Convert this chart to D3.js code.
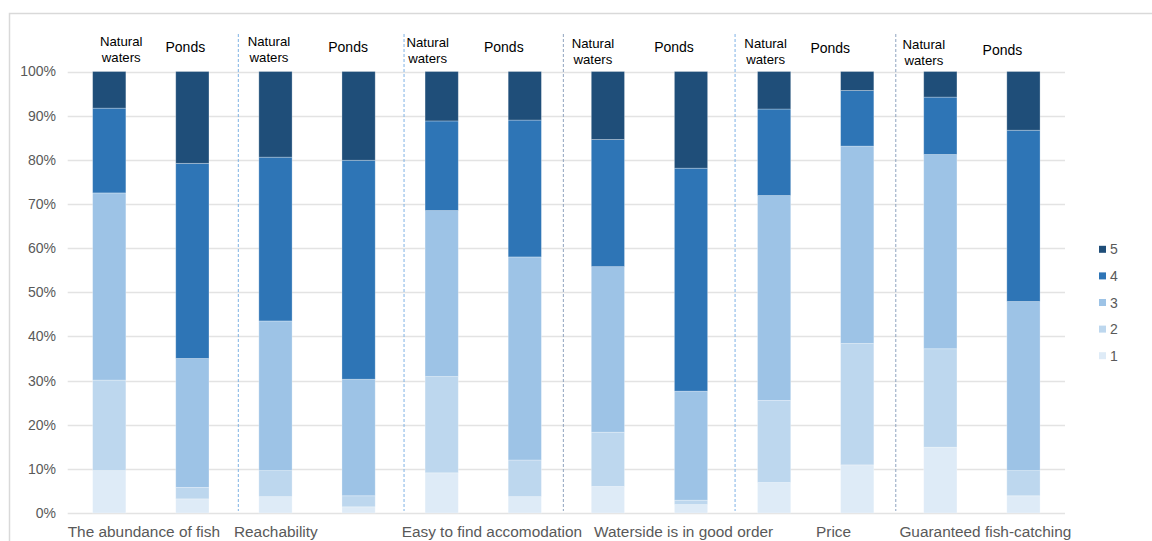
<!DOCTYPE html>
<html>
<head>
<meta charset="utf-8">
<script src="https://cdn.jsdelivr.net/npm/d3@7"></script>
<style>
  html, body { margin: 0; padding: 0; background: #fff; }
  svg { display: block; font-family: "Liberation Sans", Arial, sans-serif; }
</style>
</head>
<body>
<svg id="chart" width="1152" height="541"></svg>
<script>
// Survey answers (share of respondents, %) per score 1..5, one bar per setting
const bars = [
  "fish-natural", "fish-ponds",
  "reach-natural", "reach-ponds",
  "accom-natural", "accom-ponds",
  "water-natural", "water-ponds",
  "price-natural", "price-ponds",
  "catch-natural", "catch-ponds"
];
const score1 = [9.6, 3.2, 3.7, 1.4, 9.1, 3.7, 6.0, 1.9, 6.9, 10.9, 14.9, 3.9];
const score2 = [20.5, 2.6, 5.9, 2.5, 21.8, 8.3, 12.3, 1.0, 18.6, 27.5, 22.3, 5.7];
const score3 = [42.4, 29.2, 33.9, 26.4, 37.6, 46.0, 37.5, 24.7, 46.4, 44.7, 44.0, 38.3];
const score4 = [19.2, 44.2, 37.1, 49.6, 20.3, 31.0, 28.8, 50.5, 19.6, 12.6, 13.0, 38.8];
const score5 = [8.3, 20.8, 19.4, 20.1, 11.2, 11.0, 15.4, 21.9, 8.5, 4.3, 5.8, 13.3];

const scoreKeys = ["1", "2", "3", "4", "5"];
const categories = [
  "The abundance of fish", "Reachability", "Easy to find accomodation",
  "Waterside is in good order", "Price", "Guaranteed fish-catching"
];
const groupLabels = ["Natural waters", "Ponds"];
const yTicks = [0, 10, 20, 30, 40, 50, 60, 70, 80, 90, 100];

const colors = {
  "1": "#DEEBF7", "2": "#BDD7EE", "3": "#9DC3E6", "4": "#2E75B6", "5": "#1F4E79"
};

const rows = bars.map((b, i) => ({
  bar: b,
  "1": score1[i], "2": score2[i], "3": score3[i], "4": score4[i], "5": score5[i]
}));

const svg = d3.select("#chart");
const plotLeft = 67.7, plotRight = 1065, plotTop = 71.5, plotBottom = 513;

const x = d3.scaleBand().domain(bars).range([plotLeft, plotRight]).paddingInner(0.6).paddingOuter(0.3);
const y = d3.scaleLinear().domain([0, 100]).range([plotBottom, plotTop]);

// outer chart frame
svg.append("rect")
  .attr("x", 9.5).attr("y", 13.5).attr("width", 1200).attr("height", 600)
  .attr("fill", "none").attr("stroke", "#D9D9D9").attr("stroke-width", 1.5);

// gridlines
svg.append("g").selectAll("line").data(yTicks).join("line")
  .attr("x1", plotLeft).attr("x2", plotRight)
  .attr("y1", d => Math.round(y(d)) + 0.5).attr("y2", d => Math.round(y(d)) + 0.5)
  .attr("stroke", "#E3E3E3").attr("stroke-width", 1.3);

// y axis labels
const yAxis = d3.axisLeft(y).tickValues(yTicks).tickFormat(d => d + "%").tickSize(0).tickPadding(0);
const gy = svg.append("g").attr("transform", `translate(56,0)`).call(yAxis);
gy.select(".domain").remove();
gy.selectAll("text")
  .attr("fill", "#595959").attr("font-size", "14px")
  .attr("font-family", "'Liberation Sans', Arial, sans-serif");

// stacked bars
const stack = d3.stack().keys(scoreKeys);
const series = stack(rows);
svg.append("g").selectAll("g").data(series).join("g")
  .attr("fill", d => colors[d.key])
  .selectAll("rect").data(d => d).join("rect")
  .attr("x", d => x(d.data.bar))
  .attr("width", x.bandwidth())
  .attr("y", d => y(d[1]))
  .attr("height", d => y(d[0]) - y(d[1]))
  .attr("stroke", "rgba(255,255,255,0.35)")
  .attr("stroke-width", 0.8);

// dashed separators between topics
const step = x.step();
const sepOffsets = [4.4, 3.9, -3, 2.5, -3];
const sepColors = ["#7FB2E5", "#7FB2E5", "#8FA3BF", "#7FB2E5", "#8FA3BF"];
sepOffsets.forEach((off, i) => {
  const bx = x(bars[2 * i + 1]) + x.bandwidth() + (step - x.bandwidth()) / 2 + off;
  svg.append("line")
    .attr("x1", bx).attr("x2", bx).attr("y1", 34).attr("y2", 511)
    .attr("stroke", sepColors[i]).attr("stroke-width", 1)
    .attr("stroke-dasharray", "3,2");
});

// group labels above each bar
const natDx = [12, -6.5, -14, -15, -8.5, -16.5];
const natDy = [0, 0, 1, 2, 2, 3];
const pondDx = [-7, -10.5, -21, -17, -27, -21];
const pondDy = [0, -0.5, 0, 0, 1, 2.5];
categories.forEach((c, i) => {
  const nb = bars[2 * i], pb = bars[2 * i + 1];
  const nx = x(nb) + x.bandwidth() / 2 + natDx[i];
  const parts = groupLabels[0].split(" ");
  const t = svg.append("text")
    .attr("text-anchor", "middle").attr("font-size", "13.2px").attr("fill", "#000");
  t.append("tspan").attr("x", nx).attr("y", 46 + natDy[i]).text(parts[0]);
  t.append("tspan").attr("x", nx).attr("y", 61.5 + natDy[i]).text(parts[1]);
  svg.append("text")
    .attr("text-anchor", "middle").attr("font-size", "14px").attr("fill", "#000")
    .attr("x", x(pb) + x.bandwidth() / 2 + pondDx[i]).attr("y", 52 + pondDy[i])
    .text(groupLabels[1]);
});

// topic labels under the axis
const catDx = [0, 0, 1.5, 27.7, 83.5, 0.6];
categories.forEach((c, i) => {
  const bx = x(bars[2 * i]) - (step - x.bandwidth()) / 2;
  svg.append("text")
    .attr("x", bx + catDx[i]).attr("y", 536.5)
    .attr("font-size", "15.4px").attr("fill", "#595959")
    .text(c);
});

// legend (score 5 on top)
const legend = svg.append("g");
scoreKeys.slice().reverse().forEach((k, i) => {
  const cy = 249.3 + i * 26.6;
  legend.append("rect").attr("x", 1099).attr("y", cy - 3.5).attr("width", 7).attr("height", 7)
    .attr("fill", colors[k]);
  legend.append("text").attr("x", 1110).attr("y", cy + 5)
    .attr("font-size", "14px").attr("fill", "#595959").text(k);
});
</script>
</body>
</html>
